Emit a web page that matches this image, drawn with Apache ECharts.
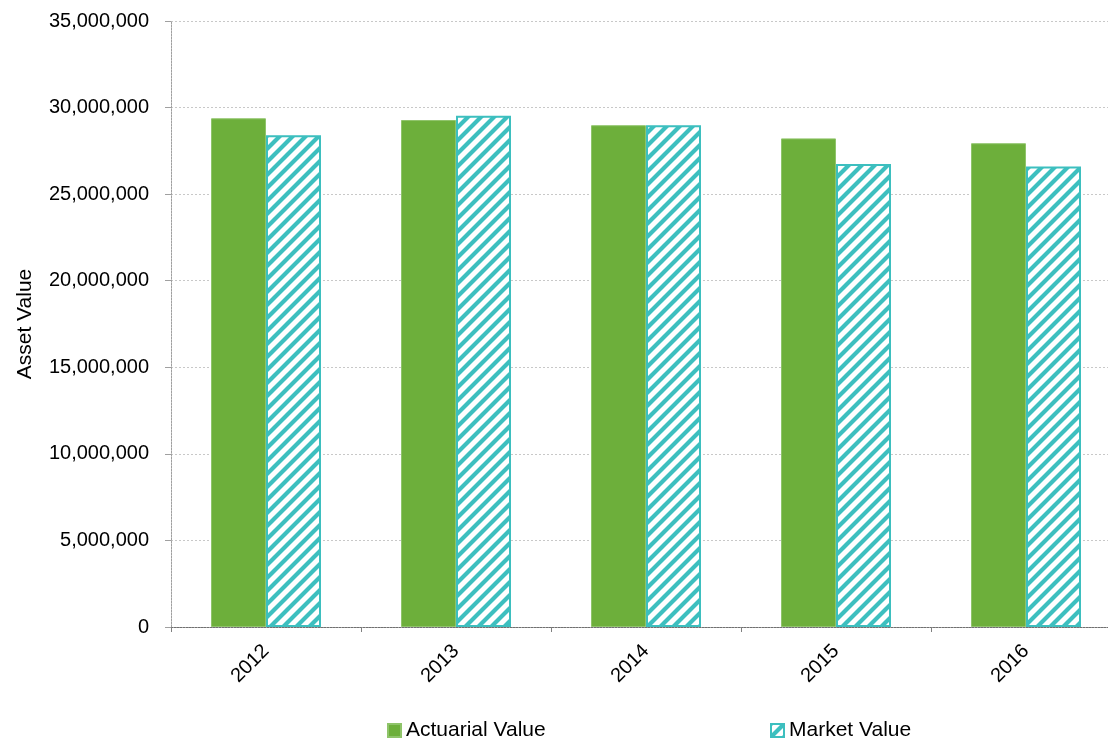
<!DOCTYPE html>
<html>
<head>
<meta charset="utf-8">
<script src="https://cdn.jsdelivr.net/npm/echarts@6/dist/echarts.min.js"></script>
<style>
html,body{margin:0;padding:0;background:#fff;overflow:hidden;}
#chart{width:1108px;height:741px;}
</style>
</head>
<body>
<div id="chart"></div>
<script>
// Plan asset values by valuation year
const years = ['2012', '2013', '2014', '2015', '2016'];
const actuarialValue = [29380000, 29280000, 28980000, 28220000, 27940000];
const marketValue = [28400000, 29530000, 28980000, 26740000, 26590000];
const seriesNames = ['Actuarial Value', 'Market Value'];
const yTicks = { min: 0, max: 35000000, step: 5000000 };

const TEAL = '#3dbfbf';
const GREEN = '#6daf3b';

// Diagonal hatch tile for the market value bars
function hatchTile() {
  const s = 13;
  const c = document.createElement('canvas');
  c.width = s; c.height = s;
  const g = c.getContext('2d');
  g.fillStyle = '#ffffff';
  g.fillRect(0, 0, s, s);
  g.strokeStyle = TEAL;
  g.lineWidth = 4.2;
  g.beginPath();
  for (let k = -1; k <= 1; k++) {
    g.moveTo(-2 + k * s, s + 2);
    g.lineTo(s + 2 + k * s, -2);
  }
  g.stroke();
  return c;
}

const chart = echarts.init(document.getElementById('chart'), null, { renderer: 'canvas' });
const fmt = v => v.toLocaleString('en-US');
const font = 'Liberation Sans, Arial, sans-serif';
const legendText = { fontSize: 21, color: '#000', fontFamily: font };

chart.setOption({
  animation: false,
  backgroundColor: '#ffffff',
  textStyle: { fontFamily: font },
  // the plot runs slightly past the right edge of the canvas
  grid: {
    left: 171, width: 950, top: 21, bottom: 114,
    containLabel: false, outerBoundsMode: 'none'
  },
  legend: [
    {
      data: [seriesNames[0]], left: 387, top: 720, padding: 0, icon: 'rect',
      itemWidth: 13, itemHeight: 13, itemGap: 3, textStyle: legendText
    },
    {
      data: [seriesNames[1]], left: 770, top: 720, padding: 0, icon: 'rect',
      itemWidth: 13, itemHeight: 13, itemGap: 3, textStyle: legendText
    }
  ],
  xAxis: {
    type: 'category',
    data: years,
    boundaryGap: true,
    axisLine: { lineStyle: { color: '#707070', type: [2, 1], width: 1 } },
    axisTick: { show: true, length: 5, alignWithLabel: false, lineStyle: { color: '#808080' } },
    axisLabel: { rotate: 45, fontSize: 20, color: '#000', margin: 21, fontFamily: font },
    splitLine: { show: false }
  },
  yAxis: {
    type: 'value',
    min: yTicks.min, max: yTicks.max, interval: yTicks.step,
    name: 'Asset Value',
    nameLocation: 'middle',
    nameGap: 135,
    nameRotate: 90,
    nameTextStyle: { fontSize: 21, color: '#000', fontFamily: font },
    axisLine: { show: true, lineStyle: { color: '#a0a0a0', type: [2, 1], width: 1 } },
    axisTick: { show: true, length: 6, lineStyle: { color: '#a0a0a0' } },
    axisLabel: { fontSize: 20, color: '#000', margin: 22, formatter: fmt, fontFamily: font },
    splitLine: { show: true, lineStyle: { color: '#c8c8c8', type: [2, 2], width: 1 } }
  },
  series: [
    {
      name: seriesNames[0],
      type: 'bar',
      data: actuarialValue,
      barWidth: 55,
      barGap: '0%',
      itemStyle: { color: GREEN, borderColor: '#8fc46a', borderWidth: 1 }
    },
    {
      name: seriesNames[1],
      type: 'bar',
      data: marketValue,
      barWidth: 55,
      barGap: '0%',
      itemStyle: {
        color: { image: hatchTile(), repeat: 'repeat' },
        borderColor: TEAL,
        borderWidth: 2
      }
    }
  ]
});
</script>
</body>
</html>
